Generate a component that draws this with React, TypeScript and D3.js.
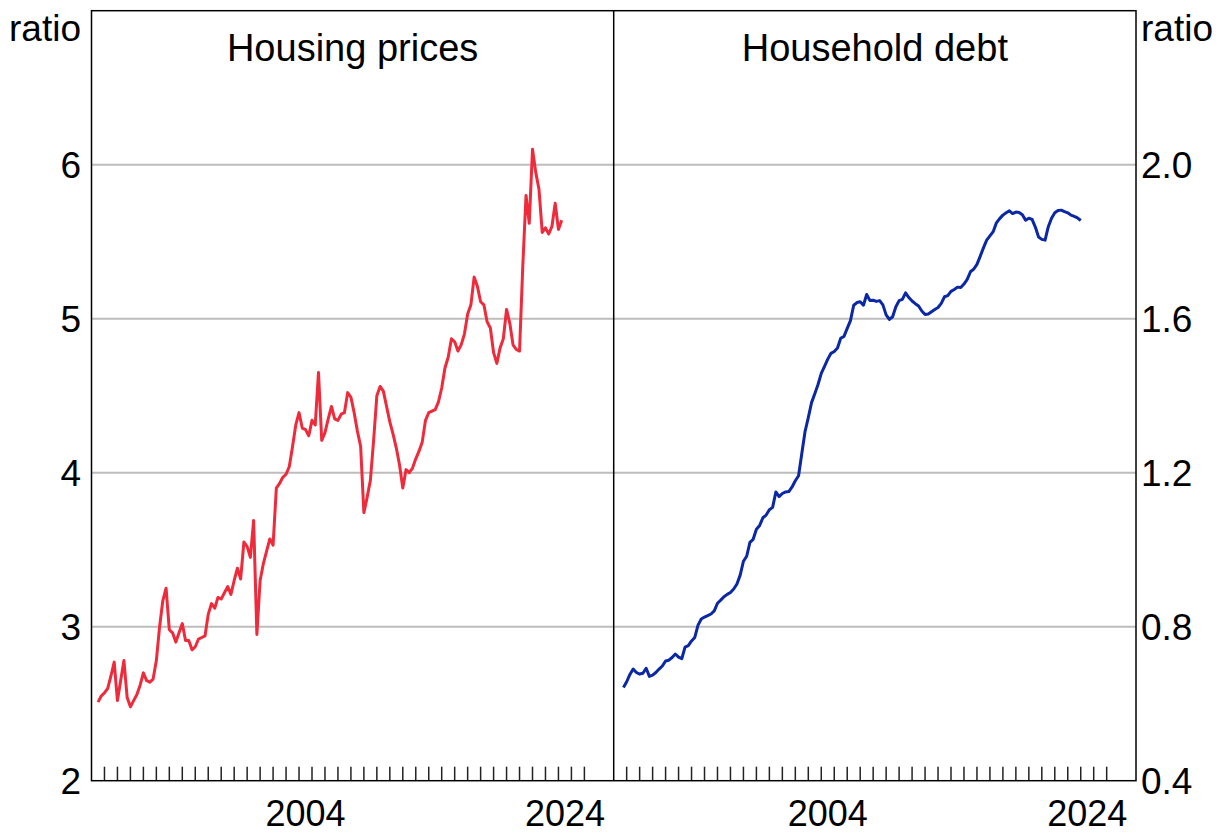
import * as d3 from "d3";

// quarterly ratios
const housingStart = 1988.5;
const housingPrices = [
  2.51, 2.55, 2.57, 2.6, 2.68, 2.77, 2.52, 2.65, 2.78, 2.54, 2.48, 2.52, 2.56, 2.62, 2.7, 2.65,
  2.64, 2.66, 2.78, 3.0, 3.17, 3.25, 2.98, 2.96, 2.9, 2.96, 3.02, 2.91, 2.91, 2.85, 2.87, 2.92,
  2.93, 2.94, 3.08, 3.15, 3.12, 3.19, 3.18, 3.22, 3.26, 3.21, 3.3, 3.38, 3.31, 3.55, 3.52, 3.45,
  3.69, 2.95, 3.3, 3.41, 3.49, 3.57, 3.53, 3.9, 3.93, 3.97, 3.99, 4.04, 4.17, 4.31, 4.39, 4.29,
  4.28, 4.24, 4.34, 4.31, 4.65, 4.21, 4.26, 4.35, 4.43, 4.35, 4.34, 4.38, 4.39, 4.52, 4.49, 4.39,
  4.27, 4.17, 3.74, 3.84, 3.95, 4.21, 4.5, 4.56, 4.53, 4.43, 4.33, 4.25, 4.16, 4.05, 3.9, 4.02,
  4.0, 4.03, 4.09, 4.14, 4.2, 4.34, 4.39, 4.4, 4.41, 4.46, 4.55, 4.68, 4.75, 4.87, 4.85, 4.79,
  4.83, 4.9, 5.03, 5.09, 5.27, 5.21, 5.11, 5.09, 4.98, 4.94, 4.78, 4.71, 4.81, 4.87, 5.06, 4.97,
  4.83, 4.8, 4.79, 5.34, 5.8, 5.62, 6.1, 5.95, 5.84, 5.56, 5.59, 5.55, 5.6, 5.75, 5.58, 5.64,
];

const debtStart = 1988.75;
const householdDebt = [
  0.642, 0.657, 0.676, 0.69, 0.681, 0.677, 0.679, 0.692, 0.671, 0.674, 0.681, 0.69, 0.698, 0.711,
  0.713, 0.72, 0.729, 0.721, 0.717, 0.747, 0.751, 0.763, 0.772, 0.804, 0.82, 0.825, 0.829, 0.833,
  0.841, 0.861, 0.869, 0.878, 0.884, 0.889, 0.898, 0.911, 0.934, 0.97, 0.983, 1.019, 1.027, 1.053,
  1.063, 1.083, 1.09, 1.104, 1.11, 1.15, 1.138, 1.146, 1.15, 1.151, 1.163, 1.179, 1.192, 1.25,
  1.307, 1.343, 1.382, 1.405, 1.429, 1.458, 1.476, 1.495, 1.51, 1.515, 1.524, 1.549, 1.554, 1.575,
  1.595, 1.635, 1.642, 1.644, 1.635, 1.663, 1.647, 1.648, 1.645, 1.647, 1.636, 1.61, 1.598, 1.605,
  1.631, 1.647, 1.65, 1.667, 1.655, 1.646, 1.639, 1.633, 1.62, 1.611, 1.612, 1.618, 1.624, 1.629,
  1.64, 1.657, 1.66, 1.671, 1.676, 1.682, 1.681, 1.69, 1.702, 1.722, 1.729, 1.741, 1.762, 1.784,
  1.804, 1.815, 1.826, 1.849, 1.86, 1.869, 1.875, 1.88, 1.873, 1.877, 1.876, 1.87, 1.856, 1.861,
  1.858, 1.838, 1.812, 1.806, 1.804, 1.839, 1.861, 1.875, 1.881, 1.882, 1.878, 1.875, 1.869, 1.866,
  1.862, 1.855,
];

const tickYears = d3.range(1989, 2027);
const labelYears = [2004, 2024];
const leftTicks = [2, 3, 4, 5, 6];
const rightTicks = [0.4, 0.8, 1.2, 1.6, 2.0];

const W = 1225;
const H = 835;
const plotTop = 10.7;
const plotBottom = 780.7;
const left = 91.5;
const mid = 613.7;
const right = 1136;
const font = "'Liberation Sans', Arial, Helvetica, sans-serif";

export default function App() {
  const yLeft = d3.scaleLinear().domain([2, 7]).range([plotBottom, plotTop]);
  const yRight = d3.scaleLinear().domain([0.4, 2.4]).range([plotBottom, plotTop]);

  const panels = [
    {
      title: "Housing prices",
      x: d3.scaleLinear().domain([1988, 2028.26]).range([left, mid]),
      y: yLeft,
      grid: leftTicks.slice(1),
      values: housingPrices,
      start: housingStart,
      color: "#ee2a3b",
    },
    {
      title: "Household debt",
      x: d3.scaleLinear().domain([1988, 2028.26]).range([mid, right]),
      y: yRight,
      grid: rightTicks.slice(1),
      values: householdDebt,
      start: debtStart,
      color: "#0a27a6",
    },
  ];

  return (
    <svg width={W} height={H} style={{ position: "absolute", left: 0, top: 0 }} fontFamily={font}>
      <rect width={W} height={H} fill="#fff" />
      {panels.map((p) => {
        const [x0, x1] = p.x.range();
        const line = d3
          .line<number>()
          .x((_, i) => p.x(p.start + i * 0.25))
          .y((d) => p.y(d));
        return (
          <g key={p.title}>
            {p.grid.map((v) => (
              <line key={v} x1={x0} x2={x1} y1={p.y(v)} y2={p.y(v)} stroke="#bdbdbd" strokeWidth={2} />
            ))}
            {tickYears.map((yr) => (
              <line key={yr} x1={p.x(yr)} x2={p.x(yr)} y1={plotBottom - 14} y2={plotBottom} stroke="#222" strokeWidth={1.5} />
            ))}
            {labelYears.map((yr) => (
              <text key={yr} x={p.x(yr + 0.5)} y={826} fontSize={36} textAnchor="middle" fill="#000">
                {yr}
              </text>
            ))}
            <path d={line(p.values) ?? ""} fill="none" stroke={p.color} strokeWidth={3} strokeLinejoin="round" />
            <text x={(x0 + x1) / 2} y={61} fontSize={38} textAnchor="middle" fill="#000">
              {p.title}
            </text>
          </g>
        );
      })}
      <rect x={left} y={plotTop} width={right - left} height={plotBottom - plotTop} fill="none" stroke="#000" strokeWidth={1.5} />
      <line x1={mid} x2={mid} y1={plotTop} y2={plotBottom} stroke="#000" strokeWidth={1.5} />
      {leftTicks.map((v) => (
        <text key={v} x={81} y={yLeft(v) + 13} fontSize={37} textAnchor="end" fill="#000">
          {v}
        </text>
      ))}
      {rightTicks.map((v) => (
        <text key={v} x={1141} y={yRight(v) + 13} fontSize={37} textAnchor="start" fill="#000">
          {v.toFixed(1)}
        </text>
      ))}
      <text x={81} y={41} fontSize={37} textAnchor="end" fill="#000">ratio</text>
      <text x={1141} y={41} fontSize={37} textAnchor="start" fill="#000">ratio</text>
    </svg>
  );
}
